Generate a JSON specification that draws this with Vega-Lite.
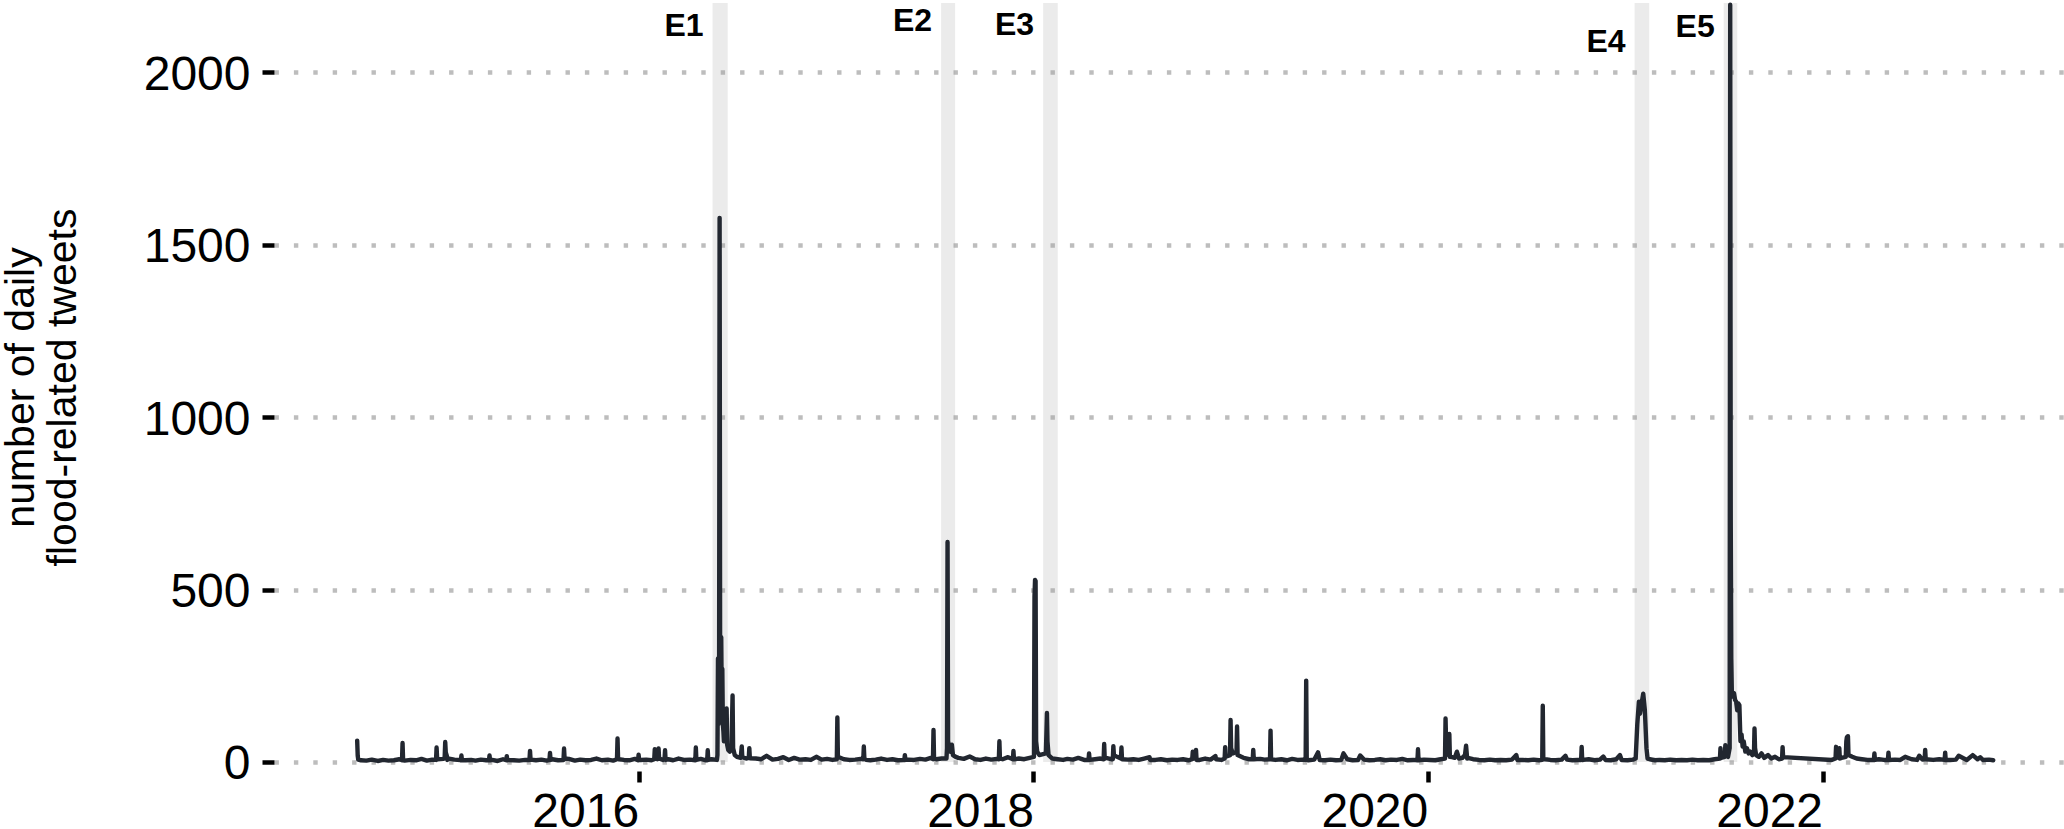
{
  "$schema": "https://vega.github.io/schema/vega-lite/v6.json",
  "width": 1790,
  "height": 768,
  "autosize": {"type": "none"},
  "padding": {"left": 274, "top": 3, "right": 0, "bottom": 58},
  "background": "white",
  "config": {
    "view": {"stroke": null},
    "font": "Liberation Sans"
  },
  "datasets": {
    "events": [
      {"event": "E1", "start": "2016-05-17", "end": "2016-06-14", "label_y": 2134},
      {"event": "E2", "start": "2017-07-14", "end": "2017-08-09", "label_y": 2149},
      {"event": "E3", "start": "2018-01-19", "end": "2018-02-15", "label_y": 2137},
      {"event": "E4", "start": "2021-01-18", "end": "2021-02-14", "label_y": 2088},
      {"event": "E5", "start": "2021-07-02", "end": "2021-07-27", "label_y": 2131}
    ],
    "tweets": [
      {"date": "2014-07-29", "n": 62}, {"date": "2014-07-30", "n": 18}, {"date": "2014-07-31", "n": 7},
      {"date": "2014-08-05", "n": 5}, {"date": "2014-08-15", "n": 4}, {"date": "2014-08-25", "n": 7},
      {"date": "2014-09-05", "n": 3}, {"date": "2014-09-15", "n": 6}, {"date": "2014-09-25", "n": 4},
      {"date": "2014-10-05", "n": 5}, {"date": "2014-10-15", "n": 8}, {"date": "2014-10-20", "n": 5},
      {"date": "2014-10-21", "n": 55}, {"date": "2014-10-22", "n": 6}, {"date": "2014-10-25", "n": 4},
      {"date": "2014-11-05", "n": 6}, {"date": "2014-11-15", "n": 5}, {"date": "2014-11-25", "n": 9},
      {"date": "2014-12-05", "n": 4}, {"date": "2014-12-15", "n": 7}, {"date": "2014-12-22", "n": 6},
      {"date": "2014-12-23", "n": 42}, {"date": "2014-12-24", "n": 12}, {"date": "2014-12-25", "n": 8},
      {"date": "2015-01-05", "n": 9}, {"date": "2015-01-07", "n": 14}, {"date": "2015-01-08", "n": 58},
      {"date": "2015-01-09", "n": 28}, {"date": "2015-01-11", "n": 18}, {"date": "2015-01-12", "n": 6},
      {"date": "2015-01-15", "n": 10}, {"date": "2015-01-25", "n": 7}, {"date": "2015-02-05", "n": 6},
      {"date": "2015-02-06", "n": 5}, {"date": "2015-02-07", "n": 19}, {"date": "2015-02-08", "n": 5},
      {"date": "2015-02-15", "n": 5}, {"date": "2015-02-25", "n": 6}, {"date": "2015-03-05", "n": 4},
      {"date": "2015-03-15", "n": 7}, {"date": "2015-03-25", "n": 5}, {"date": "2015-03-30", "n": 5},
      {"date": "2015-03-31", "n": 19}, {"date": "2015-04-01", "n": 5}, {"date": "2015-04-05", "n": 6},
      {"date": "2015-04-15", "n": 3}, {"date": "2015-04-25", "n": 8}, {"date": "2015-05-01", "n": 5},
      {"date": "2015-05-02", "n": 17}, {"date": "2015-05-03", "n": 5}, {"date": "2015-05-05", "n": 6},
      {"date": "2015-05-15", "n": 5}, {"date": "2015-05-25", "n": 4}, {"date": "2015-06-05", "n": 6},
      {"date": "2015-06-13", "n": 6}, {"date": "2015-06-14", "n": 32}, {"date": "2015-06-15", "n": 7},
      {"date": "2015-06-25", "n": 5}, {"date": "2015-07-05", "n": 7}, {"date": "2015-07-15", "n": 4},
      {"date": "2015-07-20", "n": 6}, {"date": "2015-07-21", "n": 26}, {"date": "2015-07-22", "n": 6},
      {"date": "2015-07-25", "n": 8}, {"date": "2015-08-05", "n": 5}, {"date": "2015-08-15", "n": 6},
      {"date": "2015-08-16", "n": 39}, {"date": "2015-08-17", "n": 10}, {"date": "2015-08-25", "n": 9},
      {"date": "2015-09-05", "n": 4}, {"date": "2015-09-15", "n": 7}, {"date": "2015-09-25", "n": 5},
      {"date": "2015-10-05", "n": 6}, {"date": "2015-10-15", "n": 10}, {"date": "2015-10-25", "n": 5},
      {"date": "2015-11-05", "n": 7}, {"date": "2015-11-15", "n": 4}, {"date": "2015-11-22", "n": 8},
      {"date": "2015-11-23", "n": 68}, {"date": "2015-11-24", "n": 12}, {"date": "2015-11-25", "n": 8},
      {"date": "2015-12-05", "n": 6}, {"date": "2015-12-15", "n": 5}, {"date": "2015-12-25", "n": 9},
      {"date": "2015-12-31", "n": 5}, {"date": "2016-01-01", "n": 21}, {"date": "2016-01-02", "n": 6},
      {"date": "2016-01-05", "n": 6}, {"date": "2016-01-15", "n": 7}, {"date": "2016-01-25", "n": 5},
      {"date": "2016-01-30", "n": 8}, {"date": "2016-01-31", "n": 37}, {"date": "2016-02-01", "n": 10},
      {"date": "2016-02-05", "n": 8}, {"date": "2016-02-06", "n": 9}, {"date": "2016-02-07", "n": 39},
      {"date": "2016-02-08", "n": 10}, {"date": "2016-02-15", "n": 6}, {"date": "2016-02-18", "n": 8},
      {"date": "2016-02-19", "n": 34}, {"date": "2016-02-20", "n": 6}, {"date": "2016-02-25", "n": 8},
      {"date": "2016-03-05", "n": 5}, {"date": "2016-03-15", "n": 10}, {"date": "2016-03-25", "n": 6},
      {"date": "2016-04-05", "n": 7}, {"date": "2016-04-15", "n": 5}, {"date": "2016-04-16", "n": 42},
      {"date": "2016-04-17", "n": 6}, {"date": "2016-04-25", "n": 9}, {"date": "2016-05-05", "n": 5},
      {"date": "2016-05-07", "n": 5}, {"date": "2016-05-08", "n": 34}, {"date": "2016-05-09", "n": 6},
      {"date": "2016-05-15", "n": 8}, {"date": "2016-05-25", "n": 6}, {"date": "2016-05-26", "n": 20},
      {"date": "2016-05-27", "n": 300}, {"date": "2016-05-28", "n": 110}, {"date": "2016-05-29", "n": 140},
      {"date": "2016-05-30", "n": 1578}, {"date": "2016-05-31", "n": 240}, {"date": "2016-06-01", "n": 180},
      {"date": "2016-06-02", "n": 362}, {"date": "2016-06-03", "n": 170}, {"date": "2016-06-04", "n": 270},
      {"date": "2016-06-05", "n": 110}, {"date": "2016-06-06", "n": 90}, {"date": "2016-06-07", "n": 60},
      {"date": "2016-06-09", "n": 70}, {"date": "2016-06-11", "n": 100}, {"date": "2016-06-12", "n": 155},
      {"date": "2016-06-13", "n": 50}, {"date": "2016-06-15", "n": 35}, {"date": "2016-06-18", "n": 30},
      {"date": "2016-06-21", "n": 40}, {"date": "2016-06-22", "n": 120}, {"date": "2016-06-23", "n": 193},
      {"date": "2016-06-24", "n": 40}, {"date": "2016-06-27", "n": 20}, {"date": "2016-07-01", "n": 15},
      {"date": "2016-07-08", "n": 12}, {"date": "2016-07-10", "n": 45}, {"date": "2016-07-11", "n": 14},
      {"date": "2016-07-18", "n": 10}, {"date": "2016-07-23", "n": 12}, {"date": "2016-07-24", "n": 40},
      {"date": "2016-07-25", "n": 11}, {"date": "2016-08-05", "n": 10}, {"date": "2016-08-15", "n": 8},
      {"date": "2016-08-25", "n": 18}, {"date": "2016-09-05", "n": 7}, {"date": "2016-09-15", "n": 9},
      {"date": "2016-09-25", "n": 14}, {"date": "2016-10-05", "n": 6}, {"date": "2016-10-15", "n": 12},
      {"date": "2016-10-25", "n": 7}, {"date": "2016-11-05", "n": 8}, {"date": "2016-11-15", "n": 6},
      {"date": "2016-11-25", "n": 15}, {"date": "2016-12-05", "n": 7}, {"date": "2016-12-15", "n": 9},
      {"date": "2016-12-25", "n": 6}, {"date": "2017-01-02", "n": 8}, {"date": "2017-01-03", "n": 129},
      {"date": "2017-01-04", "n": 15}, {"date": "2017-01-15", "n": 8}, {"date": "2017-01-25", "n": 6},
      {"date": "2017-02-05", "n": 7}, {"date": "2017-02-15", "n": 9}, {"date": "2017-02-20", "n": 8},
      {"date": "2017-02-21", "n": 45}, {"date": "2017-02-22", "n": 10}, {"date": "2017-02-25", "n": 6},
      {"date": "2017-03-05", "n": 5}, {"date": "2017-03-15", "n": 7}, {"date": "2017-03-25", "n": 10},
      {"date": "2017-04-05", "n": 6}, {"date": "2017-04-15", "n": 8}, {"date": "2017-04-25", "n": 5},
      {"date": "2017-05-05", "n": 6}, {"date": "2017-05-07", "n": 6}, {"date": "2017-05-08", "n": 20},
      {"date": "2017-05-09", "n": 6}, {"date": "2017-05-15", "n": 7}, {"date": "2017-05-25", "n": 6},
      {"date": "2017-06-05", "n": 9}, {"date": "2017-06-15", "n": 7}, {"date": "2017-06-25", "n": 12},
      {"date": "2017-06-29", "n": 8}, {"date": "2017-06-30", "n": 93}, {"date": "2017-07-01", "n": 10},
      {"date": "2017-07-05", "n": 8}, {"date": "2017-07-15", "n": 10}, {"date": "2017-07-24", "n": 10},
      {"date": "2017-07-25", "n": 40}, {"date": "2017-07-26", "n": 638}, {"date": "2017-07-27", "n": 60},
      {"date": "2017-07-29", "n": 45}, {"date": "2017-07-31", "n": 30}, {"date": "2017-08-03", "n": 50},
      {"date": "2017-08-05", "n": 20}, {"date": "2017-08-10", "n": 15}, {"date": "2017-08-15", "n": 12},
      {"date": "2017-08-25", "n": 9}, {"date": "2017-09-05", "n": 16}, {"date": "2017-09-15", "n": 8},
      {"date": "2017-09-25", "n": 6}, {"date": "2017-10-05", "n": 10}, {"date": "2017-10-15", "n": 7},
      {"date": "2017-10-25", "n": 9}, {"date": "2017-10-29", "n": 8}, {"date": "2017-10-30", "n": 60},
      {"date": "2017-10-31", "n": 10}, {"date": "2017-11-05", "n": 8}, {"date": "2017-11-15", "n": 14},
      {"date": "2017-11-24", "n": 8}, {"date": "2017-11-25", "n": 32}, {"date": "2017-11-26", "n": 8},
      {"date": "2017-12-05", "n": 10}, {"date": "2017-12-15", "n": 8}, {"date": "2017-12-25", "n": 12},
      {"date": "2018-01-02", "n": 15}, {"date": "2018-01-03", "n": 480}, {"date": "2018-01-04", "n": 528},
      {"date": "2018-01-05", "n": 525}, {"date": "2018-01-06", "n": 60}, {"date": "2018-01-08", "n": 30},
      {"date": "2018-01-12", "n": 20}, {"date": "2018-01-24", "n": 25}, {"date": "2018-01-25", "n": 80},
      {"date": "2018-01-26", "n": 142}, {"date": "2018-01-27", "n": 60}, {"date": "2018-01-29", "n": 20},
      {"date": "2018-02-05", "n": 10}, {"date": "2018-02-15", "n": 8}, {"date": "2018-02-25", "n": 6},
      {"date": "2018-03-05", "n": 9}, {"date": "2018-03-15", "n": 7}, {"date": "2018-03-25", "n": 12},
      {"date": "2018-04-05", "n": 6}, {"date": "2018-04-13", "n": 6}, {"date": "2018-04-14", "n": 25},
      {"date": "2018-04-15", "n": 6}, {"date": "2018-04-25", "n": 8}, {"date": "2018-05-05", "n": 10},
      {"date": "2018-05-11", "n": 8}, {"date": "2018-05-12", "n": 52}, {"date": "2018-05-13", "n": 10},
      {"date": "2018-05-15", "n": 12}, {"date": "2018-05-25", "n": 8}, {"date": "2018-05-28", "n": 8},
      {"date": "2018-05-29", "n": 46}, {"date": "2018-05-30", "n": 20}, {"date": "2018-06-05", "n": 15},
      {"date": "2018-06-12", "n": 10}, {"date": "2018-06-13", "n": 42}, {"date": "2018-06-14", "n": 8},
      {"date": "2018-06-25", "n": 7}, {"date": "2018-07-05", "n": 8}, {"date": "2018-07-15", "n": 6},
      {"date": "2018-07-25", "n": 10}, {"date": "2018-08-04", "n": 14}, {"date": "2018-08-05", "n": 6},
      {"date": "2018-08-15", "n": 6}, {"date": "2018-08-25", "n": 8}, {"date": "2018-09-05", "n": 5},
      {"date": "2018-09-15", "n": 7}, {"date": "2018-09-25", "n": 6}, {"date": "2018-10-05", "n": 8},
      {"date": "2018-10-15", "n": 5}, {"date": "2018-10-22", "n": 8}, {"date": "2018-10-23", "n": 30},
      {"date": "2018-10-24", "n": 10}, {"date": "2018-10-28", "n": 12}, {"date": "2018-10-29", "n": 35},
      {"date": "2018-10-30", "n": 6}, {"date": "2018-11-05", "n": 6}, {"date": "2018-11-15", "n": 10},
      {"date": "2018-11-25", "n": 7}, {"date": "2018-12-04", "n": 17}, {"date": "2018-12-05", "n": 8},
      {"date": "2018-12-15", "n": 6}, {"date": "2018-12-21", "n": 10}, {"date": "2018-12-22", "n": 43},
      {"date": "2018-12-23", "n": 15}, {"date": "2018-12-31", "n": 20}, {"date": "2019-01-01", "n": 122},
      {"date": "2019-01-02", "n": 40}, {"date": "2019-01-05", "n": 25}, {"date": "2019-01-12", "n": 30},
      {"date": "2019-01-13", "n": 103}, {"date": "2019-01-14", "n": 20}, {"date": "2019-01-25", "n": 12},
      {"date": "2019-02-05", "n": 8}, {"date": "2019-02-11", "n": 8}, {"date": "2019-02-12", "n": 35},
      {"date": "2019-02-13", "n": 8}, {"date": "2019-02-25", "n": 9}, {"date": "2019-03-05", "n": 7},
      {"date": "2019-03-15", "n": 8}, {"date": "2019-03-16", "n": 91}, {"date": "2019-03-17", "n": 8},
      {"date": "2019-03-25", "n": 6}, {"date": "2019-04-05", "n": 8}, {"date": "2019-04-15", "n": 5},
      {"date": "2019-04-25", "n": 9}, {"date": "2019-05-05", "n": 6}, {"date": "2019-05-15", "n": 7},
      {"date": "2019-05-20", "n": 6}, {"date": "2019-05-21", "n": 236}, {"date": "2019-05-22", "n": 8},
      {"date": "2019-05-25", "n": 5}, {"date": "2019-06-05", "n": 7}, {"date": "2019-06-12", "n": 28},
      {"date": "2019-06-15", "n": 6}, {"date": "2019-06-25", "n": 5}, {"date": "2019-07-05", "n": 7},
      {"date": "2019-07-15", "n": 5}, {"date": "2019-07-25", "n": 6}, {"date": "2019-07-29", "n": 25},
      {"date": "2019-08-05", "n": 8}, {"date": "2019-08-15", "n": 5}, {"date": "2019-08-25", "n": 6},
      {"date": "2019-08-29", "n": 19}, {"date": "2019-09-05", "n": 7}, {"date": "2019-09-15", "n": 5},
      {"date": "2019-09-25", "n": 6}, {"date": "2019-10-05", "n": 8}, {"date": "2019-10-15", "n": 5},
      {"date": "2019-10-25", "n": 7}, {"date": "2019-11-05", "n": 6}, {"date": "2019-11-15", "n": 9},
      {"date": "2019-11-25", "n": 5}, {"date": "2019-12-05", "n": 6}, {"date": "2019-12-13", "n": 5},
      {"date": "2019-12-14", "n": 37}, {"date": "2019-12-15", "n": 5}, {"date": "2019-12-25", "n": 7},
      {"date": "2020-01-05", "n": 6}, {"date": "2020-01-15", "n": 5}, {"date": "2020-01-25", "n": 8},
      {"date": "2020-02-02", "n": 10}, {"date": "2020-02-03", "n": 126}, {"date": "2020-02-04", "n": 60},
      {"date": "2020-02-06", "n": 30}, {"date": "2020-02-09", "n": 20}, {"date": "2020-02-10", "n": 81},
      {"date": "2020-02-11", "n": 15}, {"date": "2020-02-15", "n": 14}, {"date": "2020-02-20", "n": 12},
      {"date": "2020-02-24", "n": 30}, {"date": "2020-02-28", "n": 10}, {"date": "2020-03-05", "n": 12},
      {"date": "2020-03-10", "n": 20}, {"date": "2020-03-12", "n": 47}, {"date": "2020-03-14", "n": 10},
      {"date": "2020-03-15", "n": 12}, {"date": "2020-03-25", "n": 8}, {"date": "2020-04-05", "n": 6},
      {"date": "2020-04-15", "n": 5}, {"date": "2020-04-25", "n": 7}, {"date": "2020-05-05", "n": 5},
      {"date": "2020-05-15", "n": 6}, {"date": "2020-05-25", "n": 5}, {"date": "2020-06-05", "n": 7},
      {"date": "2020-06-13", "n": 20}, {"date": "2020-06-15", "n": 6}, {"date": "2020-06-25", "n": 6},
      {"date": "2020-07-05", "n": 5}, {"date": "2020-07-15", "n": 7}, {"date": "2020-07-25", "n": 5},
      {"date": "2020-07-31", "n": 6}, {"date": "2020-08-01", "n": 163}, {"date": "2020-08-02", "n": 8},
      {"date": "2020-08-05", "n": 8}, {"date": "2020-08-15", "n": 6}, {"date": "2020-08-25", "n": 5},
      {"date": "2020-09-05", "n": 7}, {"date": "2020-09-12", "n": 18}, {"date": "2020-09-15", "n": 7},
      {"date": "2020-09-25", "n": 5}, {"date": "2020-10-05", "n": 6}, {"date": "2020-10-11", "n": 6},
      {"date": "2020-10-12", "n": 44}, {"date": "2020-10-13", "n": 6}, {"date": "2020-10-15", "n": 6},
      {"date": "2020-10-25", "n": 8}, {"date": "2020-11-05", "n": 5}, {"date": "2020-11-15", "n": 7},
      {"date": "2020-11-21", "n": 16}, {"date": "2020-11-25", "n": 6}, {"date": "2020-12-05", "n": 5},
      {"date": "2020-12-15", "n": 8}, {"date": "2020-12-22", "n": 20}, {"date": "2020-12-25", "n": 6},
      {"date": "2021-01-05", "n": 5}, {"date": "2021-01-15", "n": 7}, {"date": "2021-01-20", "n": 10},
      {"date": "2021-01-23", "n": 110}, {"date": "2021-01-26", "n": 175}, {"date": "2021-01-28", "n": 140},
      {"date": "2021-01-31", "n": 170}, {"date": "2021-02-03", "n": 198}, {"date": "2021-02-06", "n": 150},
      {"date": "2021-02-09", "n": 40}, {"date": "2021-02-11", "n": 10}, {"date": "2021-02-15", "n": 8},
      {"date": "2021-02-25", "n": 5}, {"date": "2021-03-05", "n": 6}, {"date": "2021-03-15", "n": 5},
      {"date": "2021-03-25", "n": 7}, {"date": "2021-04-05", "n": 5}, {"date": "2021-04-15", "n": 6},
      {"date": "2021-04-25", "n": 5}, {"date": "2021-05-05", "n": 7}, {"date": "2021-05-15", "n": 5},
      {"date": "2021-05-25", "n": 6}, {"date": "2021-06-05", "n": 5}, {"date": "2021-06-15", "n": 8},
      {"date": "2021-06-25", "n": 10}, {"date": "2021-06-26", "n": 40}, {"date": "2021-06-27", "n": 12},
      {"date": "2021-07-04", "n": 15}, {"date": "2021-07-05", "n": 49}, {"date": "2021-07-06", "n": 20},
      {"date": "2021-07-10", "n": 15}, {"date": "2021-07-13", "n": 40}, {"date": "2021-07-14", "n": 2196},
      {"date": "2021-07-15", "n": 700}, {"date": "2021-07-16", "n": 300}, {"date": "2021-07-17", "n": 205},
      {"date": "2021-07-19", "n": 190}, {"date": "2021-07-21", "n": 200}, {"date": "2021-07-23", "n": 180},
      {"date": "2021-07-25", "n": 175}, {"date": "2021-07-27", "n": 150}, {"date": "2021-07-29", "n": 170},
      {"date": "2021-07-31", "n": 165}, {"date": "2021-08-02", "n": 60}, {"date": "2021-08-04", "n": 80},
      {"date": "2021-08-06", "n": 45}, {"date": "2021-08-08", "n": 60}, {"date": "2021-08-11", "n": 30},
      {"date": "2021-08-14", "n": 40}, {"date": "2021-08-17", "n": 25}, {"date": "2021-08-20", "n": 30},
      {"date": "2021-08-24", "n": 20}, {"date": "2021-08-27", "n": 25}, {"date": "2021-08-28", "n": 97},
      {"date": "2021-08-29", "n": 40}, {"date": "2021-08-31", "n": 20}, {"date": "2021-09-05", "n": 15},
      {"date": "2021-09-10", "n": 25}, {"date": "2021-09-15", "n": 12}, {"date": "2021-09-22", "n": 20},
      {"date": "2021-09-28", "n": 10}, {"date": "2021-10-05", "n": 15}, {"date": "2021-10-12", "n": 8},
      {"date": "2021-10-18", "n": 10}, {"date": "2021-10-19", "n": 43}, {"date": "2021-10-20", "n": 14},
      {"date": "2022-01-18", "n": 6}, {"date": "2022-01-25", "n": 10}, {"date": "2022-01-26", "n": 44},
      {"date": "2022-01-27", "n": 12}, {"date": "2022-02-01", "n": 40}, {"date": "2022-02-02", "n": 10},
      {"date": "2022-02-05", "n": 12}, {"date": "2022-02-13", "n": 15}, {"date": "2022-02-14", "n": 60},
      {"date": "2022-02-15", "n": 72}, {"date": "2022-02-16", "n": 50}, {"date": "2022-02-17", "n": 75},
      {"date": "2022-02-18", "n": 20}, {"date": "2022-02-25", "n": 15}, {"date": "2022-03-05", "n": 10},
      {"date": "2022-03-15", "n": 8}, {"date": "2022-03-25", "n": 6}, {"date": "2022-04-06", "n": 6},
      {"date": "2022-04-07", "n": 25}, {"date": "2022-04-08", "n": 6}, {"date": "2022-04-15", "n": 8},
      {"date": "2022-04-25", "n": 6}, {"date": "2022-05-02", "n": 6}, {"date": "2022-05-03", "n": 27},
      {"date": "2022-05-04", "n": 6}, {"date": "2022-05-15", "n": 7}, {"date": "2022-05-25", "n": 6},
      {"date": "2022-06-03", "n": 15}, {"date": "2022-06-15", "n": 8}, {"date": "2022-06-25", "n": 6},
      {"date": "2022-06-29", "n": 18}, {"date": "2022-07-05", "n": 7}, {"date": "2022-07-09", "n": 8},
      {"date": "2022-07-10", "n": 35}, {"date": "2022-07-11", "n": 8}, {"date": "2022-07-25", "n": 6},
      {"date": "2022-08-05", "n": 8}, {"date": "2022-08-15", "n": 6}, {"date": "2022-08-16", "n": 27},
      {"date": "2022-08-17", "n": 6}, {"date": "2022-08-25", "n": 6}, {"date": "2022-09-05", "n": 7},
      {"date": "2022-09-10", "n": 18}, {"date": "2022-09-25", "n": 6}, {"date": "2022-10-06", "n": 20},
      {"date": "2022-10-15", "n": 8}, {"date": "2022-10-20", "n": 14}, {"date": "2022-10-25", "n": 6},
      {"date": "2022-11-05", "n": 7}, {"date": "2022-11-13", "n": 5}
    ]
  },
  "layer": [
    {
      "data": {"name": "events"},
      "mark": {"type": "rect", "fill": "#999999", "fillOpacity": 0.2, "stroke": null},
      "encoding": {
        "x": {"field": "start", "type": "temporal"},
        "x2": {"field": "end"},
        "y": {"datum": 2201, "type": "quantitative"},
        "y2": {"datum": 0}
      }
    },
    {
      "data": {"name": "events"},
      "mark": {"type": "text", "align": "right", "baseline": "middle", "dx": -9, "fontSize": 32, "fontWeight": "bold", "font": "Liberation Sans", "color": "#000000"},
      "encoding": {
        "x": {"field": "start", "type": "temporal"},
        "y": {"field": "label_y", "type": "quantitative"},
        "text": {"field": "event"}
      }
    },
    {
      "data": {"name": "tweets"},
      "mark": {"type": "line", "color": "#222730", "strokeWidth": 4.4, "strokeJoin": "round", "strokeCap": "round"},
      "encoding": {
        "x": {
          "field": "date", "type": "temporal",
          "scale": {"type": "utc", "domain": [{"year": 2014, "month": 2, "date": 25, "utc": true}, {"year": 2023, "month": 3, "date": 24, "utc": true}], "nice": false},
          "axis": {
            "title": null,
            "values": [{"year": 2016, "utc": true}, {"year": 2018, "utc": true}, {"year": 2020, "utc": true}, {"year": 2022, "utc": true}],
            "format": "%Y",
            "formatType": "utc",
            "domain": false,
            "grid": false,
            "ticks": true,
            "tickSize": 11,
            "tickWidth": 4.5,
            "tickColor": "#000000",
            "labelFont": "Liberation Sans",
            "labelFontSize": 48,
            "labelColor": "#000000",
            "labelAlign": "right",
            "labelBaseline": "top",
            "labelPadding": 6,
            "labelFlush": false,
            "labelOverlap": false
          }
        },
        "y": {
          "field": "n", "type": "quantitative",
          "scale": {"domain": [-26.1, 2201], "nice": false, "zero": false},
          "axis": {
            "title": ["number of daily", "flood-related tweets"],
            "titleFont": "Liberation Sans",
            "titleFontSize": 41,
            "titleFontWeight": "normal",
            "titleColor": "#000000",
            "titleAngle": -90,
            "titleAlign": "center",
            "titleBaseline": "alphabetic",
            "titleX": -240.5,
            "titleY": 384,
            "titleLineHeight": 42.4,
            "values": [0, 500, 1000, 1500, 2000],
            "format": "d",
            "domain": false,
            "grid": true,
            "gridColor": "#bdbdbd",
            "gridWidth": 4.4,
            "gridDash": [4.4, 15],
            "tickSize": 12,
            "tickWidth": 4.5,
            "tickColor": "#000000",
            "labelFont": "Liberation Sans",
            "labelFontSize": 48,
            "labelColor": "#000000",
            "labelPadding": 12,
            "labelOffset": 3,
            "labelFlush": false,
            "labelOverlap": false
          }
        }
      }
    }
  ]
}
